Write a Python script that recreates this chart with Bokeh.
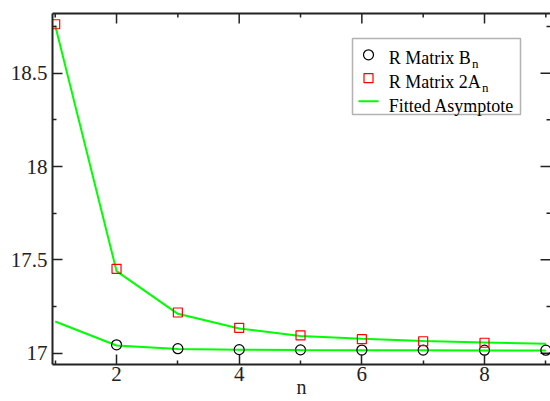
from bokeh.plotting import figure
from bokeh.models import Range1d, FixedTicker, LinearAxis, Label, BoxAnnotation
from bokeh.embed import file_html
from bokeh.resources import INLINE

# ---- data ----
n_fit = [1, 2, 3, 4, 5, 6, 7, 8, 9]
fit_A = [18.755, 17.440, 17.211, 17.132, 17.092, 17.077, 17.066, 17.058, 17.050]
fit_B = [17.170, 17.041, 17.023, 17.019, 17.017, 17.016, 17.016, 17.015, 17.015]
n_B = [2, 3, 4, 5, 6, 7, 8, 9]
B_vals = [17.045, 17.024, 17.019, 17.018, 17.017, 17.017, 17.016, 17.016]
n_A = [1, 2, 3, 4, 5, 6, 7, 8]
A2_vals = [18.762, 17.452, 17.218, 17.136, 17.096, 17.075, 17.064, 17.056]

x_ticks = [2, 4, 6, 8]
x_minor = [1, 3, 5, 7, 9]
y_ticks = [17, 17.5, 18, 18.5]
y_tick_labels = ["17", "17.5", "18", "18.5"]
y_minor = [17.25, 17.75, 18.25, 18.75]
x_label = "n"
legend_main = ["R Matrix B", "R Matrix 2A", "Fitted Asymptote"]
legend_sub = ["n", "n", ""]

# ---- layout ----
W, H = 550, 401
FL, FT, FR, FB = 52, 13, 0, 37
X0, X1 = 0.956, 9.076
Y0, Y1 = 16.9395, 18.8195
FW, FH = W - FL - FR, H - FT - FB
sx = (X1 - X0) / FW
sy = (Y1 - Y0) / FH


def dx(px):
    return X0 + (px - FL) * sx


def dy(py):
    return Y1 - (py - FT) * sy


SERIF = "Liberation Serif"
AX = "#222222"
MAJ, MIN = 10, 4

p = figure(width=W, height=H, output_backend="svg", toolbar_location=None,
           x_range=Range1d(X0, X1), y_range=Range1d(Y0, Y1),
           min_border_left=FL, min_border_right=FR, min_border_top=FT,
           min_border_bottom=FB, x_axis_location=None, y_axis_location=None)
p.outline_line_color = None
p.xgrid.visible = False
p.ygrid.visible = False
p.background_fill_color = "white"
p.border_fill_color = "white"


def style(ax):
    ax.axis_line_color = AX
    ax.axis_line_width = 2
    ax.major_tick_line_color = AX
    ax.minor_tick_line_color = AX
    ax.major_tick_line_width = 1.5
    ax.minor_tick_line_width = 1.5
    ax.major_tick_in = MAJ
    ax.major_tick_out = 0
    ax.minor_tick_in = MIN
    ax.minor_tick_out = 0
    ax.major_label_text_font = SERIF
    ax.major_label_text_font_size = "21px"
    ax.major_label_text_color = AX


bottom = LinearAxis(ticker=FixedTicker(ticks=x_ticks, minor_ticks=x_minor))
style(bottom)
bottom.major_label_standoff = 2
bottom.axis_label = x_label
bottom.axis_label_text_font = SERIF
bottom.axis_label_text_font_size = "20px"
bottom.axis_label_text_font_style = "normal"
bottom.axis_label_text_color = AX
bottom.axis_label_standoff = -8
left = LinearAxis(ticker=FixedTicker(ticks=y_ticks, minor_ticks=y_minor),
                  major_label_overrides={t: l for t, l in zip(y_ticks, y_tick_labels)})
style(left)
left.major_label_standoff = 5
# top axis: line only (tick marks drawn below)
top = LinearAxis(ticker=FixedTicker(ticks=[], minor_ticks=[]))
top.axis_line_color = AX
top.axis_line_width = 2
p.add_layout(bottom, "below")
p.add_layout(left, "left")
p.add_layout(top, "above")

# mirrored tick marks on top and right (inward)
TK = dict(line_color=AX, line_width=1.5)
p.segment(x0=x_ticks, x1=x_ticks, y0=[Y1] * len(x_ticks),
          y1=[Y1 - MAJ * sy] * len(x_ticks), **TK)
p.segment(x0=x_minor, x1=x_minor, y0=[Y1] * len(x_minor),
          y1=[Y1 - MIN * sy] * len(x_minor), **TK)
p.segment(x0=[X1] * len(y_ticks), x1=[X1 - MAJ * sx] * len(y_ticks),
          y0=y_ticks, y1=y_ticks, **TK)
p.segment(x0=[X1] * len(y_minor), x1=[X1 - MIN * sx] * len(y_minor),
          y0=y_minor, y1=y_minor, **TK)

GREEN = "#00ff00"
p.line(n_fit, fit_A, line_color=GREEN, line_width=2)
p.line(n_fit, fit_B, line_color=GREEN, line_width=2)
p.scatter(n_B, B_vals, marker="circle", size=10, fill_color=None,
          line_color="black", line_width=1.2)
p.scatter(n_A, A2_vals, marker="square", size=9, fill_color=None,
          line_color="red", line_width=1.2)

# ---- legend ----
p.add_layout(BoxAnnotation(left=dx(352), right=dx(520), top=dy(38),
                           bottom=dy(114), fill_color=None,
                           line_color="black", line_width=1.5,
                           level="underlay"))
p.scatter([dx(368)], [dy(54.3)], marker="circle", size=10, fill_color=None,
          line_color="black", line_width=1.2)
p.scatter([dx(368)], [dy(77.7)], marker="square", size=9, fill_color=None,
          line_color="red", line_width=1.2)
p.line([dx(358), dx(378)], [dy(100.7), dy(100.7)], line_color=GREEN,
       line_width=2)
baselines = [57.3, 81.3, 105.3]
sub_x = [471.5, 481.5, 0]
for txt, sub, bl, sxp in zip(legend_main, legend_sub, baselines, sub_x):
    p.add_layout(Label(x=dx(388.3), y=dy(bl), text=txt, text_font=SERIF,
                       text_font_size="18px", text_baseline="alphabetic",
                       text_color="black"))
    if sub:
        p.add_layout(Label(x=dx(sxp), y=dy(bl + 5.3), text=sub,
                           text_font=SERIF, text_font_size="13px",
                           text_baseline="alphabetic", text_color="black"))

open("out.html", "w").write(file_html(p, INLINE))
